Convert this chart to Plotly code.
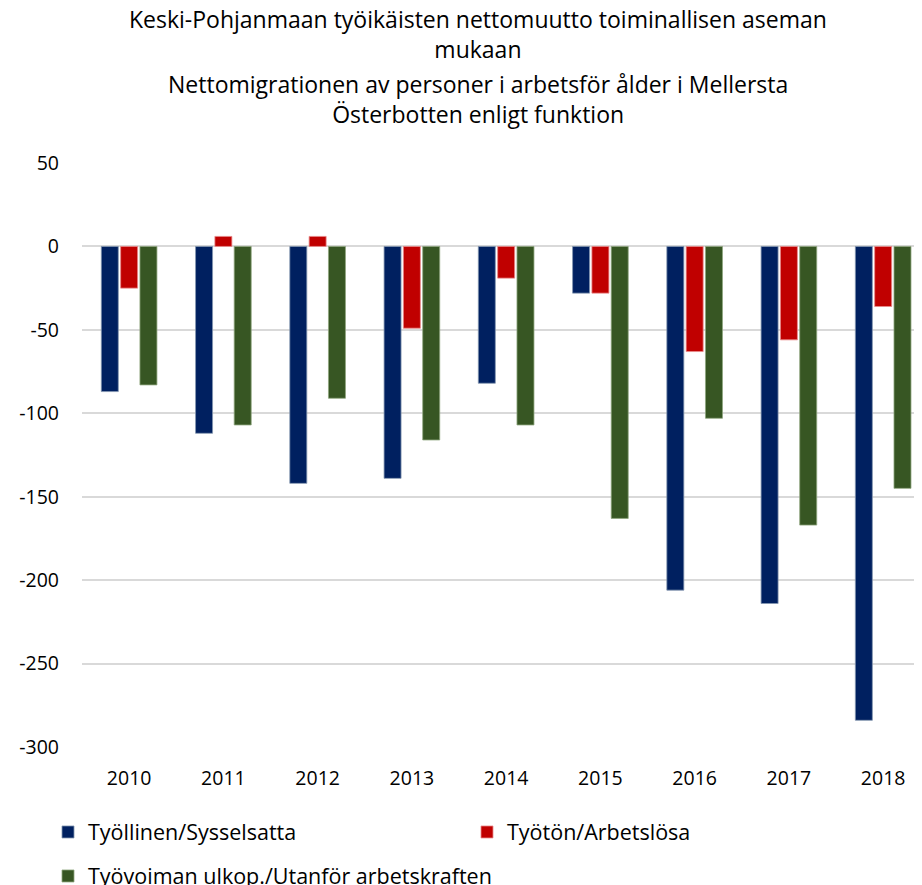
import plotly.graph_objects as go

years = ["2010", "2011", "2012", "2013", "2014", "2015", "2016", "2017", "2018"]
tyollinen = [-87, -112, -142, -139, -82, -28, -206, -214, -284]
tyoton = [-25, 6, 6, -49, -19, -28, -63, -56, -36]
ulkop = [-83, -107, -91, -116, -107, -163, -103, -167, -145]
ytick_vals = [50, 0, -50, -100, -150, -200, -250, -300]
ytick_text = [str(v) for v in ytick_vals]

names = ["Työllinen/Sysselsatta", "Työtön/Arbetslösa", "Työvoiman ulkop./Utanför arbetskraften"]
colors = ["#002060", "#C00000", "#375623"]
lines = ["#8497b0", "#e88b8b", "#8fa67f"]
legends = ["legend", "legend", "legend2"]

FONT = "Open Sans"
# page is rendered with an 8px body margin, so figure coords = page coords - 8
FW, FH = 914, 877
L, R, T, B = 74, 0, 155, 138
W = FW - L - R
H = FH - T - B

def px_x(px):
    return (px - L) / W

def px_y(py):
    return (FH - B - py) / H

fig = go.Figure()
for vals, nm, c, lc, lg in zip([tyollinen, tyoton, ulkop], names, colors, lines, legends):
    fig.add_trace(go.Bar(x=years, y=vals, name=nm, legend=lg,
                         marker=dict(color=c, line=dict(color=lc, width=0.8))))

legend_common = dict(orientation="h", xanchor="left", yanchor="middle",
                     entrywidthmode="pixels",
                     font=dict(size=21.5, color="#000000", family=FONT),
                     traceorder="normal", itemwidth=30, bgcolor="rgba(0,0,0,0)")

fig.update_layout(
    width=FW, height=FH,
    plot_bgcolor="white", paper_bgcolor="white",
    margin=dict(l=L, r=R, t=T, b=B, autoexpand=False),
    barmode="group", bargap=0.385, bargroupgap=0.12,
    font=dict(family=FONT, size=19.5, color="#000000"),
    showlegend=True,
    legend=dict(x=px_x(40), y=px_y(824), entrywidth=374, **legend_common),
    legend2=dict(x=px_x(40), y=px_y(868), entrywidth=700, **legend_common),
    xaxis=dict(type="category", range=[-0.5, 8.412], showgrid=False, showline=False,
               ticks="", ticklabelstandoff=17, automargin=False,
               tickfont=dict(size=19.5, color="#000000")),
    yaxis=dict(range=[-300, 50], tickvals=ytick_vals, ticktext=ytick_text,
               showgrid=True, gridcolor="#d9d9d9", gridwidth=1.5,
               zeroline=True, zerolinecolor="#d9d9d9", zerolinewidth=1.5,
               showline=False, ticks="", ticklabelstandoff=22, automargin=False,
               tickfont=dict(size=19.5, color="#000000")),
)

fig.add_annotation(text="Keski-Pohjanmaan työikäisten nettomuutto toiminallisen aseman<br>mukaan",
                   x=px_x(470), y=px_y(25.5), xref="paper", yref="paper", showarrow=False,
                   xanchor="center", yanchor="middle",
                   font=dict(size=23, color="#000000", family=FONT))
fig.add_annotation(text="Nettomigrationen av personer i arbetsför ålder i Mellersta<br>Österbotten enligt funktion",
                   x=px_x(470), y=px_y(90.5), xref="paper", yref="paper", showarrow=False,
                   xanchor="center", yanchor="middle",
                   font=dict(size=23, color="#000000", family=FONT))

fig.write_html("out.html")
